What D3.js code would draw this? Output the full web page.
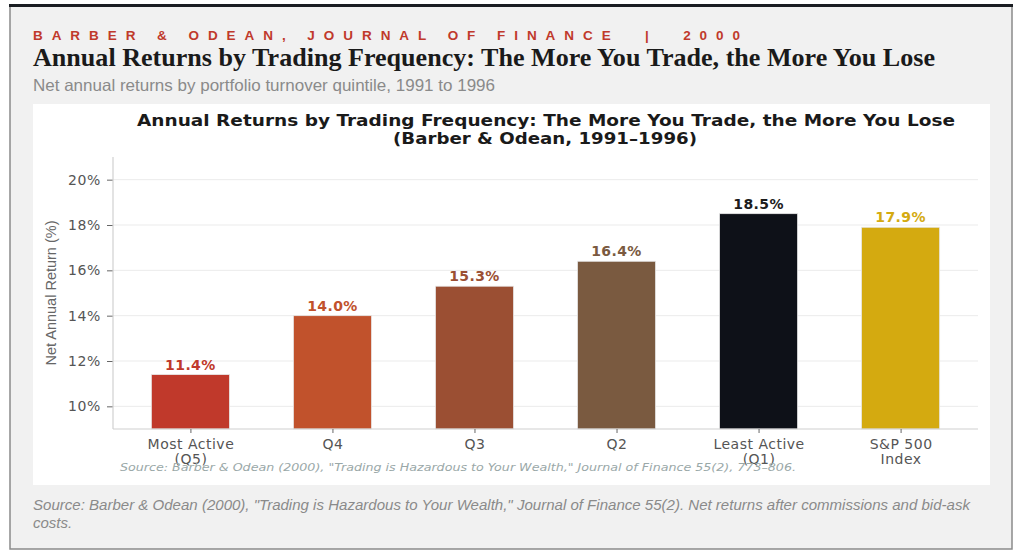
<!DOCTYPE html>
<html>
<head>
<meta charset="utf-8">
<script src="https://cdn.jsdelivr.net/npm/d3@7"></script>
<style>
  body { margin: 0; background: #fff; }
  svg { display: block; }
  text { white-space: pre; }
</style>
</head>
<body>
<svg id="chart" width="1024" height="552"></svg>
<script>
// data
let categories = ['Most Active\n(Q5)', 'Q4', 'Q3', 'Q2', 'Least Active\n(Q1)', 'S&P 500\nIndex']
let returns = [11.4, 14.0, 15.3, 16.4, 18.5, 17.9]
let barColors = ['#c0392b', '#c1522c', '#9b4f33', '#7a5a40', '#0e1118', '#d4aa10']
let labelColors = ['#c0392b', '#c1522c', '#9b4f33', '#7a5a40', '#1c1c1c', '#d4aa10']
let yTicks = [10, 12, 14, 16, 18, 20]

let svg = d3.select('#chart')

// card
svg.append('rect').attr('x', 10).attr('y', 6).attr('width', 1002).attr('height', 543)
  .attr('fill', '#f1f1f1').attr('stroke', '#8a8a8a').attr('stroke-width', 1.5)
svg.append('rect').attr('x', 9).attr('y', 4).attr('width', 1004).attr('height', 3).attr('fill', '#1a1d22')

// header
svg.append('text').attr('x', 33).attr('y', 40)
  .attr('font-family', 'Liberation Sans, Arial, sans-serif').attr('font-size', 13.5)
  .attr('font-weight', 'bold').attr('fill', '#c0392b')
  .attr('textLength', 707).attr('lengthAdjust', 'spacing')
  .text('BARBER & ODEAN, JOURNAL OF FINANCE  |  2000')
svg.append('text').attr('x', 33).attr('y', 66)
  .attr('font-family', 'Liberation Serif, serif').attr('font-size', 26)
  .attr('font-weight', 'bold').attr('fill', '#1a1a1a')
  .attr('textLength', 902).attr('lengthAdjust', 'spacingAndGlyphs')
  .text('Annual Returns by Trading Frequency: The More You Trade, the More You Lose')
svg.append('text').attr('x', 33).attr('y', 91)
  .attr('font-family', 'Liberation Sans, Arial, sans-serif').attr('font-size', 16.5)
  .attr('fill', '#8a8a8a')
  .attr('textLength', 462).attr('lengthAdjust', 'spacingAndGlyphs')
  .text('Net annual returns by portfolio turnover quintile, 1991 to 1996')

// white panel
svg.append('rect').attr('x', 33).attr('y', 104).attr('width', 957).attr('height', 381).attr('fill', '#fff')

// inner title
let t = svg.append('text').attr('text-anchor', 'middle')
  .attr('font-family', 'DejaVu Sans, sans-serif').attr('font-size', 15.5).attr('font-weight', 'bold').attr('fill', '#1a1a1a')
t.append('tspan').attr('x', 546).attr('y', 126).attr('textLength', 818).attr('lengthAdjust', 'spacingAndGlyphs')
  .text('Annual Returns by Trading Frequency: The More You Trade, the More You Lose')
t.append('tspan').attr('x', 545).attr('y', 144).attr('textLength', 304).attr('lengthAdjust', 'spacingAndGlyphs')
  .text('(Barber & Odean, 1991\u20131996)')

// scales
let plotL = 113, plotR = 978, plotT = 157, plotB = 429
let x = d3.scalePoint().domain(categories).range([plotL, plotR]).padding(0.545)
let y = d3.scaleLinear().domain([9, 21]).range([plotB, plotT])
let bw = x.step() * 0.55

// grid
svg.append('g').selectAll('line').data(yTicks).enter().append('line')
  .attr('x1', plotL).attr('x2', plotR)
  .attr('y1', d => y(d)).attr('y2', d => y(d))
  .attr('stroke', '#ebebeb').attr('stroke-width', 1)

// y axis
let yAxis = svg.append('g').attr('transform', `translate(${plotL},0)`)
  .call(d3.axisLeft(y).tickValues(yTicks).tickFormat(d => d + '%').tickSize(6).tickPadding(6))
yAxis.select('.domain').remove()
yAxis.selectAll('line').attr('stroke', '#666')
yAxis.selectAll('text').attr('font-family', 'DejaVu Sans, sans-serif').attr('font-size', 14)
  .attr('letter-spacing', '0.6px').attr('fill', '#555')

svg.append('text')
  .attr('transform', 'translate(56,293) rotate(-90)')
  .attr('text-anchor', 'middle')
  .attr('font-family', 'Liberation Sans, Arial, sans-serif').attr('font-size', 14).attr('fill', '#666')
  .attr('textLength', 145).attr('lengthAdjust', 'spacingAndGlyphs')
  .text('Net Annual Return (%)')

// bars
svg.append('g').selectAll('rect').data(returns).enter().append('rect')
  .attr('x', (d, i) => x(categories[i]) - bw / 2)
  .attr('width', bw)
  .attr('y', d => y(d))
  .attr('height', d => y(9) - y(d))
  .attr('fill', (d, i) => barColors[i])
  .attr('stroke', '#e8e8e8').attr('stroke-width', 0.8)

// value labels
svg.append('g').selectAll('text').data(returns).enter().append('text')
  .attr('x', (d, i) => x(categories[i]))
  .attr('y', d => y(d) - 5)
  .attr('text-anchor', 'middle')
  .attr('font-family', 'DejaVu Sans, sans-serif').attr('font-size', 14).attr('font-weight', 'bold')
  .attr('letter-spacing', '0.4px')
  .attr('fill', (d, i) => labelColors[i])
  .text(d => d.toFixed(1) + '%')

// spines
svg.append('line').attr('x1', plotL).attr('x2', plotL).attr('y1', plotT).attr('y2', plotB).attr('stroke', '#d0d0d0').attr('stroke-width', 1.2)
svg.append('line').attr('x1', plotL).attr('x2', plotR).attr('y1', plotB).attr('y2', plotB).attr('stroke', '#d0d0d0').attr('stroke-width', 1.2)

// x axis
let xAxis = svg.append('g').attr('transform', `translate(0,${plotB})`)
  .call(d3.axisBottom(x).tickSize(4).tickPadding(6))
xAxis.select('.domain').remove()
xAxis.selectAll('line').attr('stroke', '#666')
xAxis.selectAll('text').each(function (d) {
  let el = d3.select(this).text(null)
    .attr('font-family', 'DejaVu Sans, sans-serif').attr('font-size', 14)
    .attr('letter-spacing', '0.5px').attr('fill', '#555')
  d.split('\n').forEach((s, k) => {
    el.append('tspan').attr('x', 0).attr('dy', k === 0 ? '0.71em' : '1.05em').text(s)
  })
})

// in-chart source
svg.append('text').attr('x', 458).attr('y', 471).attr('text-anchor', 'middle')
  .attr('font-family', 'DejaVu Sans, sans-serif').attr('font-size', 11).attr('font-style', 'italic')
  .attr('fill', '#9aa8a8')
  .attr('textLength', 676).attr('lengthAdjust', 'spacingAndGlyphs')
  .text('Source: Barber & Odean (2000), "Trading is Hazardous to Your Wealth," Journal of Finance 55(2), 773\u2013806.')

// caption
let c = svg.append('text')
  .attr('font-family', 'Liberation Sans, Arial, sans-serif').attr('font-size', 15).attr('font-style', 'italic')
  .attr('fill', '#8a8a8a')
c.append('tspan').attr('x', 33).attr('y', 510).attr('textLength', 937).attr('lengthAdjust', 'spacingAndGlyphs')
  .text('Source: Barber & Odean (2000), "Trading is Hazardous to Your Wealth," Journal of Finance 55(2). Net returns after commissions and bid-ask')
c.append('tspan').attr('x', 33).attr('y', 528).text('costs.')
</script>
</body>
</html>
